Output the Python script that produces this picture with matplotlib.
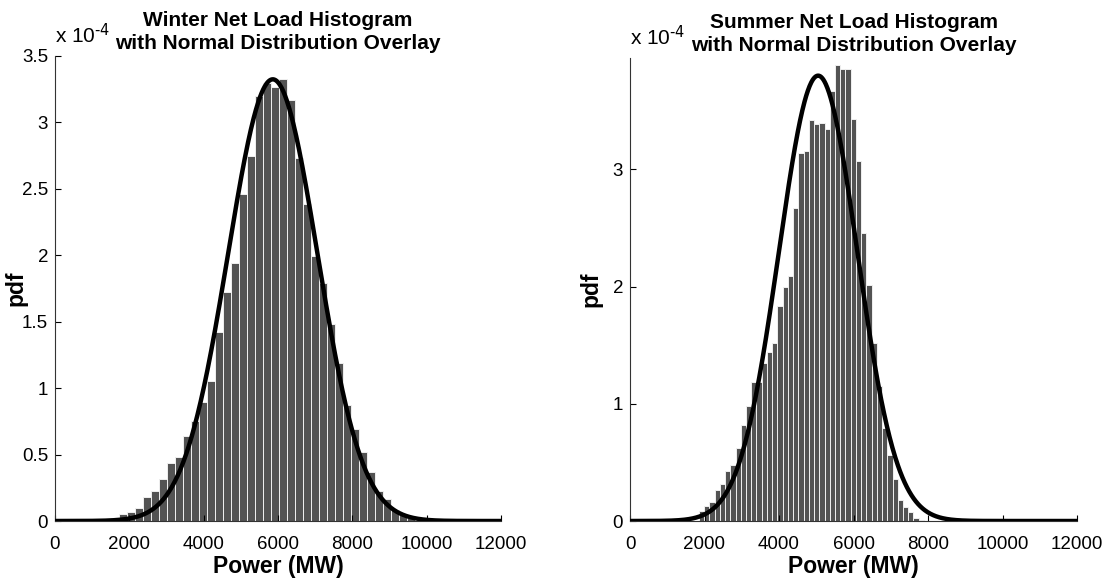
import numpy as np
import matplotlib.pyplot as plt

plt.rcParams['font.family'] = ['Liberation Sans', 'DejaVu Sans']
plt.rcParams['mathtext.default'] = 'regular'

# winter histogram: pdf values in units of 1e-4, bins of equal width
winter_start = 1515
winter_width = 215
winter_pdf = [0.023, 0.053, 0.068, 0.098, 0.181, 0.226, 0.316, 0.437, 0.482, 0.640,
              0.753, 0.896, 1.054, 1.423, 1.724, 1.942, 2.461, 2.747, 3.199, 3.297,
              3.267, 3.327, 3.169, 2.732, 2.386, 1.995, 1.791, 1.483, 1.189, 0.873,
              0.692, 0.519, 0.369, 0.226, 0.166, 0.083, 0.045, 0.023]
winter_mu = 5860
winter_sigma = 1200

# summer histogram
summer_start = 1850
summer_width = 140.5
summer_pdf = [0.088, 0.128, 0.162, 0.262, 0.318, 0.426, 0.477, 0.625, 0.818, 0.983,
              1.185, 1.185, 1.344, 1.438, 1.520, 1.835, 1.997, 2.089, 2.671, 3.143,
              3.157, 3.419, 3.390, 3.399, 3.342, 3.666, 3.893, 3.853, 3.859, 3.433,
              3.069, 2.461, 2.012, 1.515, 1.151, 0.790, 0.563, 0.355, 0.179, 0.122,
              0.074, 0.028, 0.009]
summer_mu = 5050
summer_sigma = 1050

xticks = [0, 2000, 4000, 6000, 8000, 10000, 12000]

fig = plt.figure(figsize=(11.1, 5.81), dpi=100)
ax1 = fig.add_axes([55/1110, 60/581, 446/1110, 465/581])
ax2 = fig.add_axes([630/1110, 60/581, 447/1110, 463/581])

panels = [
    (ax1, winter_start, winter_width, winter_pdf, winter_mu, winter_sigma,
     'Winter Net Load Histogram\nwith Normal Distribution Overlay', 3.5, np.arange(0, 3.51, 0.5)),
    (ax2, summer_start, summer_width, summer_pdf, summer_mu, summer_sigma,
     'Summer Net Load Histogram\nwith Normal Distribution Overlay', 3.95, [0, 1, 2, 3]),
]

for ax, start, width, pdf, mu, sigma, title, ytop, yticks in panels:
    lefts = start + width*np.arange(len(pdf))
    ax.bar(lefts, pdf, width=width, align='edge', color='#535353',
           edgecolor='#f0f0f0', linewidth=0.7, zorder=1)
    xx = np.linspace(0, 12000, 800)
    yy = 1e4*np.exp(-0.5*((xx-mu)/sigma)**2)/(sigma*np.sqrt(2*np.pi))
    ax.plot(xx, yy, color='black', lw=3.2, zorder=3, solid_capstyle='butt')
    ax.set_xlim(0, 12000)
    ax.set_ylim(0, ytop)
    ax.set_xticks(xticks)
    ax.set_yticks(yticks)
    ax.set_yticklabels(['%g' % v for v in yticks])
    ax.spines['top'].set_visible(False)
    ax.spines['right'].set_visible(False)
    for s in ['left', 'bottom']:
        ax.spines[s].set_linewidth(0.8)
        ax.spines[s].set_color('#333333')
    ax.tick_params(direction='in', length=4, width=0.8, labelsize=13.5)
    ax.tick_params(axis='x', pad=11)
    ax.tick_params(axis='y', pad=5)
    ax.set_xlabel('Power (MW)', fontsize=16.5, fontweight='bold', labelpad=1)
    ax.set_ylabel('pdf', fontsize=16.5, fontweight='bold')
    ax.yaxis.set_label_coords(-0.062, 0.5)
    ax.set_title(title, fontsize=15, fontweight='bold', pad=5, linespacing=1.25)
    ax.annotate(r'x 10$^{\text{-4}}$', xy=(0, 1), xycoords='axes fraction',
                xytext=(0, 6), textcoords='offset points', ha='left', va='bottom',
                fontsize=15)

fig.savefig('out.png', dpi=100)
